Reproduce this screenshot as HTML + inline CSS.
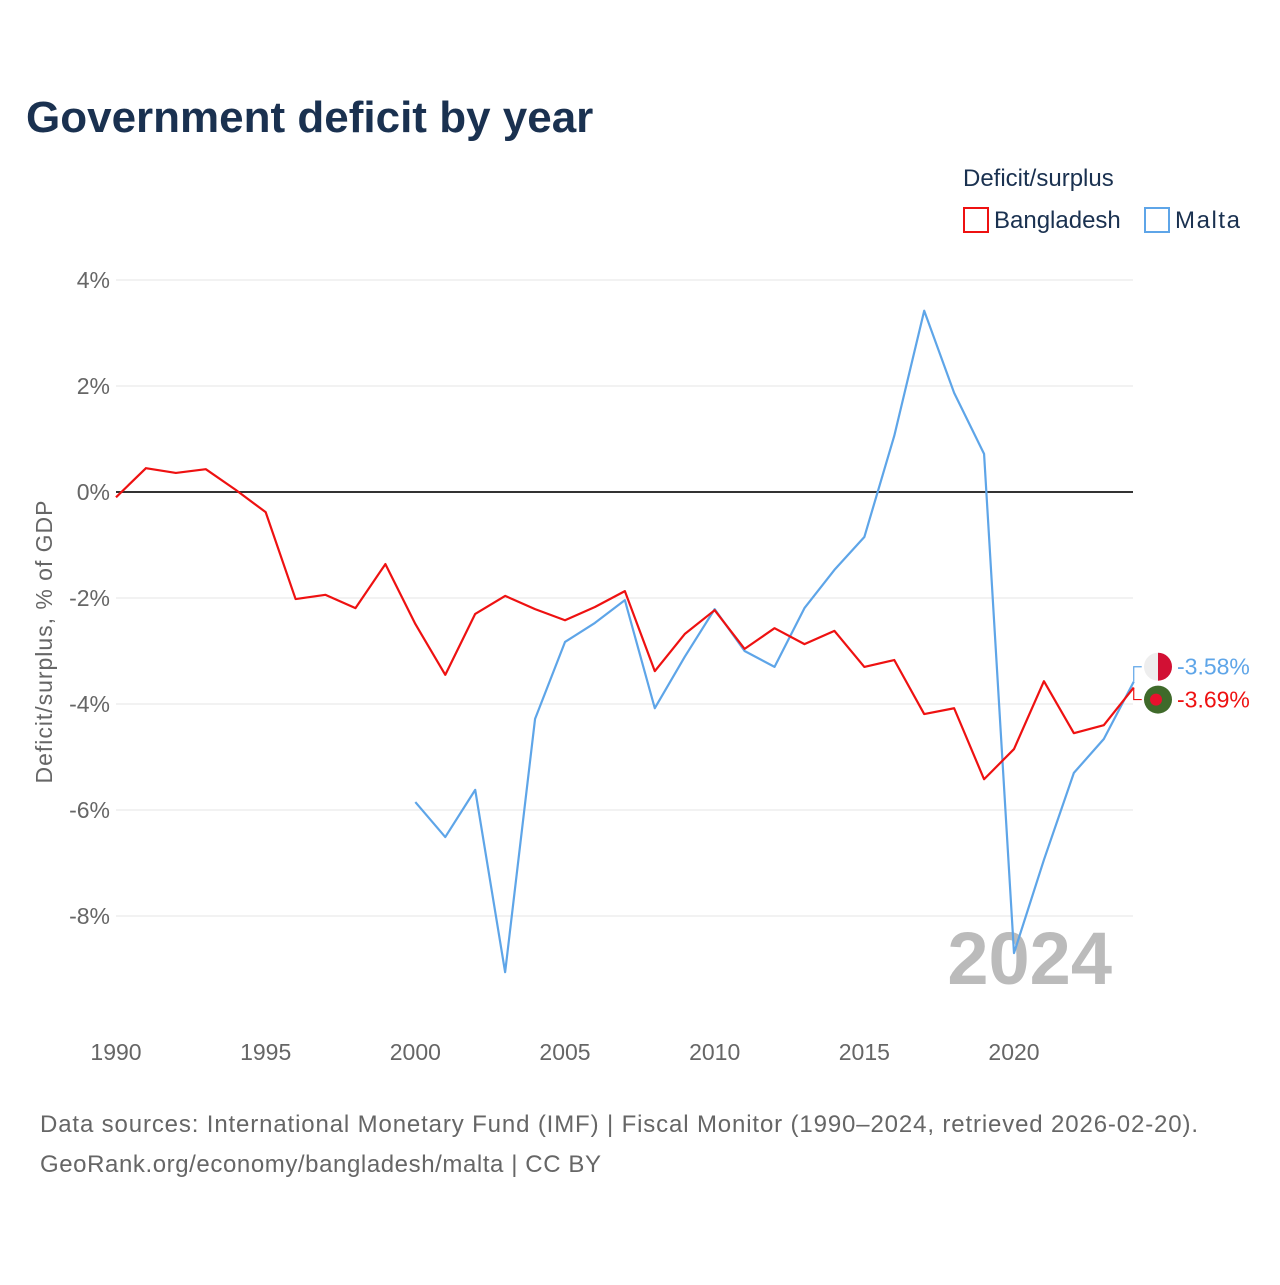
<!DOCTYPE html>
<html><head><meta charset="utf-8"><style>
body{margin:0;background:#fff;font-family:"Liberation Sans",sans-serif}
svg text{font-family:"Liberation Sans",sans-serif}
</style></head><body>
<svg width="1280" height="1280" viewBox="0 0 1280 1280">
<text x="26" y="132" font-size="44" font-weight="bold" fill="#1a3150">Government deficit by year</text>
<text x="963" y="186" font-size="24" fill="#1a3150">Deficit/surplus</text>
<g><rect x="964" y="208" width="24" height="24" fill="none" stroke="#ee1111" stroke-width="2"/><text x="994" y="228" font-size="24" fill="#1a3150">Bangladesh</text></g>
<g><rect x="1145" y="208" width="24" height="24" fill="none" stroke="#5ea5e8" stroke-width="2"/><text x="1175" y="228" font-size="24" fill="#1a3150" textLength="65">Malta</text></g>
<g id="grid"></g>
<text x="52" y="642" font-size="23" fill="#666" text-anchor="middle" transform="rotate(-90 52 642)" textLength="283">Deficit/surplus, % of GDP</text>
<text x="1112" y="984" font-size="74" font-weight="bold" fill="#bbb" text-anchor="end">2024</text>
<g id="lines"></g>
<text x="40" y="1132" font-size="24" fill="#666" textLength="1158">Data sources: International Monetary Fund (IMF) | Fiscal Monitor (1990–2024, retrieved 2026-02-20).</text>
<text x="40" y="1172" font-size="24" fill="#666" textLength="561">GeoRank.org/economy/bangladesh/malta | CC BY</text>
</svg>
<script>
const yTicks=[4,2,0,-2,-4,-6,-8];
const xTicks=[1990,1995,2000,2005,2010,2015,2020];
const bdYears=[];for(let y=1990;y<=2024;y++)bdYears.push(y);
const bdValues=[-0.1,0.45,0.36,0.43,0.04,-0.38,-2.02,-1.94,-2.19,-1.36,-2.49,-3.45,-2.30,-1.96,-2.21,-2.42,-2.17,-1.87,-3.38,-2.68,-2.23,-2.96,-2.57,-2.87,-2.62,-3.30,-3.17,-4.19,-4.08,-5.42,-4.85,-3.57,-4.55,-4.40,-3.69];
const mtYears=[];for(let y=2000;y<=2024;y++)mtYears.push(y);
const mtValues=[-5.85,-6.51,-5.62,-9.06,-4.28,-2.83,-2.47,-2.04,-4.08,-3.11,-2.21,-3.00,-3.30,-2.19,-1.47,-0.85,1.06,3.42,1.87,0.72,-8.70,-6.94,-5.30,-4.66,-3.58];
const NS="http://www.w3.org/2000/svg";
const X=v=>116+(v-1990)*(1014-116)/30;
const Y=v=>492-v*53;
function mk(t,a,p){const e=document.createElementNS(NS,t);for(const k in a)e.setAttribute(k,a[k]);p.appendChild(e);return e;}
const g=document.getElementById('grid');
yTicks.forEach(v=>{
 const l=mk('line',{x1:116,x2:1133,y1:Y(v),y2:Y(v),stroke:v===0?'#333':'#e5e5e5','stroke-width':v===0?2:1},g);
 
 
 const t=mk('text',{x:110,y:Y(v)+8,'font-size':23,fill:'#666','text-anchor':'end'},g);
 t.textContent=v+'%';
 
 
});
xTicks.forEach(v=>{
 const t=mk('text',{x:X(v),y:1060,'font-size':23,fill:'#666','text-anchor':'middle'},g);
 t.textContent=v;
 
 
});
const L=document.getElementById('lines');
function series(xs,vs,c,name){
 const p=mk('polyline',{points:xs.map((x,i)=>X(x)+','+Y(vs[i])).join(' '),fill:'none',stroke:c,'stroke-width':2.2,'stroke-linejoin':'round'},L);
 
 
}
series(mtYears,mtValues,'#5ea5e8','malta-line');
series(bdYears,bdValues,'#ee1111','bangladesh-line');
const mEnd=mtValues[mtValues.length-1],bEnd=bdValues[bdValues.length-1];
const xe=X(2024);
mk('polyline',{points:`${xe},${Y(mEnd)} ${xe},${Y(mEnd)-15} ${xe+8},${Y(mEnd)-15}`,fill:'none',stroke:'#5ea5e8','stroke-width':1.2},L);
mk('polyline',{points:`${xe},${Y(bEnd)} ${xe},${Y(bEnd)+12} ${xe+8},${Y(bEnd)+12}`,fill:'none',stroke:'#ee1111','stroke-width':1.2},L);
const my=Y(mEnd)-15,by=Y(bEnd)+12;
const mf=mk('g',{},L);


mk('circle',{cx:1158,cy:my,r:14,fill:'#eee'},mf);
mk('path',{d:`M1158 ${my-14} A14 14 0 0 1 1158 ${my+14} Z`,fill:'#d21034'},mf);
const bf=mk('g',{},L);


mk('circle',{cx:1158,cy:by,r:14,fill:'#3f6a2a'},bf);
mk('circle',{cx:1156,cy:by,r:6,fill:'#e8112d'},bf);
const mt=mk('text',{x:1177,y:my+8,'font-size':23,fill:'#5ea5e8'},L);
mt.textContent=mEnd.toFixed(2)+'%';


const bt=mk('text',{x:1177,y:by+8,'font-size':23,fill:'#ee1111'},L);
bt.textContent=bEnd.toFixed(2)+'%';


</script>
</body></html>
